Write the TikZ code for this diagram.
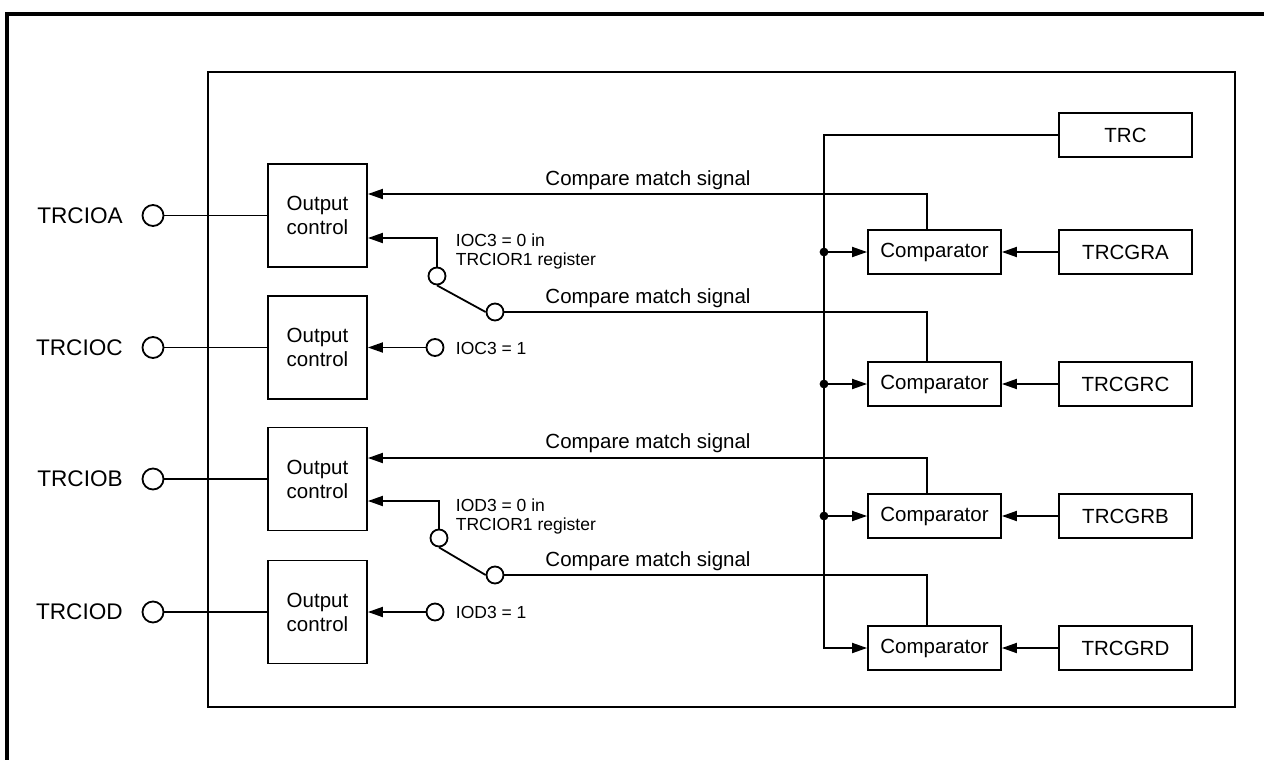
\documentclass[tikz,border=0pt]{standalone}
\usepackage{fontspec}
\setmainfont{Liberation Sans}
\usetikzlibrary{arrows.meta,positioning}

\tikzset{
  blk/.style={draw, align=center, inner sep=0pt},
  outbox/.style={blk, minimum width=49.5pt, minimum height=51.5pt},
  cmpbox/.style={blk, minimum width=66.5pt, minimum height=22pt},
  pin/.style={circle, draw, minimum size=10.5pt, inner sep=0pt},
  tap/.style={circle, draw, fill=white, minimum size=8.5pt, inner sep=0pt},
  pinlabel/.style={inner sep=0pt, font=\fontsize{11.3}{13}\selectfont},
  small/.style={inner sep=0pt, align=left, font=\fontsize{8.75}{9.5}\selectfont},
  arr/.style={-{Triangle[length=7.5pt,width=5pt]}},
}

\begin{document}
\begin{tikzpicture}[x=0.5pt, y=-0.5pt, line width=0.9pt,
    font=\fontsize{10.25}{12}\selectfont]
    \useasboundingbox (0,0) rectangle (1264,760);

    % frames
    \draw[line width=2pt] (7,760) -- (7,14) -- (1264,14);
    \draw (208,72) rectangle (1235,707);

    % output side
    \node[outbox] (outA) at (317.5,215.5) {Output\\control};
    \node[outbox] (outC) at (317.5,347.5) {Output\\control};
    \node[outbox] (outB) at (317.5,479) {Output\\control};
    \node[outbox] (outD) at (317.5,612) {Output\\control};

    \node[pin] (pinA) at (153,215.5) {};
    \node[pin] (pinC) at (153,347.5) {};
    \node[pin] (pinB) at (153,479) {};
    \node[pin] (pinD) at (153,612) {};
    \node[pinlabel, left=9pt of pinA] {TRCIOA};
    \node[pinlabel, left=9pt of pinC] {TRCIOC};
    \node[pinlabel, left=9pt of pinB] {TRCIOB};
    \node[pinlabel, left=9pt of pinD] {TRCIOD};

    \draw (pinA) -- (outA);
    \draw (pinC) -- (outC);
    \draw (pinB) -- (outB);
    \draw (pinD) -- (outD);

    % switches
    \node[tap] (swA1) at (437,276) {};
    \node[tap] (swA2) at (495,312) {};
    \node[tap] (ioA) at (435,347.5) {};
    \node[tap] (swB1) at (439,538) {};
    \node[tap] (swB2) at (495,575) {};
    \node[tap] (ioB) at (435,612) {};

    \draw[arr] (swA1.north) |- ([yshift=-11.25pt]outA.east);
    \draw (swA1.south) -- (swA2.west);
    \draw[arr] (ioA.west) -- (outC.east);
    \draw[arr] (swB1.north) |- ([yshift=-11pt]outB.east);
    \draw (swB1.south) -- (swB2.west);
    \draw[arr] (ioB.west) -- (outD.east);

    \node[small, anchor=west] at (455,251) {IOC3 = 0 in\\TRCIOR1 register};
    \node[small, anchor=west] at (455,348) {IOC3 = 1};
    \node[small, anchor=west] at (455,516) {IOD3 = 0 in\\TRCIOR1 register};
    \node[small, anchor=west] at (455,612) {IOD3 = 1};

    % compare side
    \node[cmpbox] (trc) at (1125.5,135) {TRC};
    \node[cmpbox] (cmpA) at (934.5,252) {Comparator};
    \node[cmpbox] (cmpC) at (934.5,384) {Comparator};
    \node[cmpbox] (cmpB) at (934.5,516) {Comparator};
    \node[cmpbox] (cmpD) at (934.5,648) {Comparator};
    \node[cmpbox] (grA) at (1125.5,252) {TRCGRA};
    \node[cmpbox] (grC) at (1125.5,384) {TRCGRC};
    \node[cmpbox] (grB) at (1125.5,516) {TRCGRB};
    \node[cmpbox] (grD) at (1125.5,648) {TRCGRD};

    \draw[arr] (grA) -- (cmpA);
    \draw[arr] (grC) -- (cmpC);
    \draw[arr] (grB) -- (cmpB);
    \draw[arr] (grD) -- (cmpD);

    \coordinate (bus) at (824,135);
    \draw[arr] (trc.west) -- (bus) |- (cmpD.west);
    \foreach \r in {A,C,B}{
        \fill (bus |- cmp\r) circle (2.2pt);
        \draw[arr] (bus |- cmp\r) -- (cmp\r.west);
    }

    % compare match signals
    \draw[arr] ([xshift=-3.75pt]cmpA.north) |- ([yshift=10.75pt]outA.east);
    \draw ([xshift=-3.75pt]cmpC.north) |- (swA2.east);
    \draw[arr] ([xshift=-3.75pt]cmpB.north) |- ([yshift=10.5pt]outB.east);
    \draw ([xshift=-3.75pt]cmpD.north) |- (swB2.east);

    \node[anchor=base] at (648,185) {Compare match signal};
    \node[anchor=base] at (648,303) {Compare match signal};
    \node[anchor=base] at (648,448) {Compare match signal};
    \node[anchor=base] at (648,566) {Compare match signal};
\end{tikzpicture}
\end{document}
